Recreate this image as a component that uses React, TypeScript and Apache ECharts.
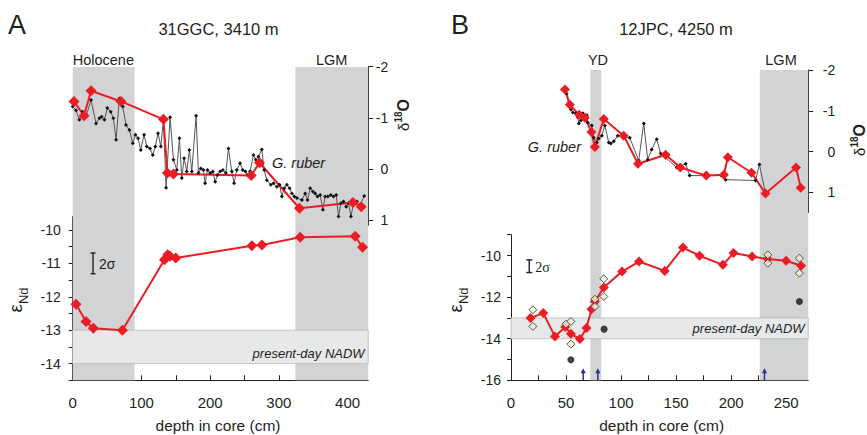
import React, { useEffect, useRef } from 'react';
import * as echarts from 'echarts';

// ---------- Panel A: 31GGC, 3410 m ----------
const depthA_blk = [0, 4.8, 9.7, 14.5, 19.4, 26.6, 34, 38.8, 42.2, 46.1, 50.4, 55.3, 59.2, 63.1, 67.9, 72.8, 77.6, 82.5, 87.4, 91.2, 95.1, 99, 103.8, 107.8, 112.6, 116.5, 120.3, 124.2, 128.2, 132, 135.9, 141.7, 146.6, 151.5, 155.3, 158.7, 162.1, 166, 169.8, 173.3, 179.6, 182.9, 186.4, 190.2, 192.7, 196.1, 200, 203.9, 207.3, 210.6, 214.5, 218.4, 222.8, 226.6, 231.5, 234.8, 238.7, 243.5, 247.4, 251.3, 254.7, 258.1, 263, 266.5, 270.3, 275.2, 278.6, 282.5, 288.3, 292.2, 297.1, 301, 304.4, 307.8, 311.7, 315.6, 319, 322.4, 326.2, 333.5, 338.3, 341.7, 345.6, 349.5, 352.8, 356.2, 360.1, 364, 367.3, 371.2, 375.6, 379.6, 383.5, 386.8, 390.3, 394.1, 398, 401.4, 404.9, 408.7, 413.6, 418.4, 424.2];
const d18OA_blk = [-1.22, -1.15, -0.96, -1.12, -1.02, -1.35, -0.89, -0.99, -1.02, -0.96, -1.19, -1.12, -0.99, -0.57, -1.38, -1.22, -0.86, -0.76, -0.5, -0.67, -0.6, -0.37, -0.67, -0.44, -0.4, -0.27, -0.44, -0.7, -0.44, -0.96, 0.37, -1.01, -0.18, 0.02, -0.6, 0.18, -0.21, 0.05, -0.37, 0.05, -1.04, 0.08, -0.01, 0.02, 0.28, 0.02, 0.08, 0.05, 0.25, 0.12, 0.05, 0.02, 0.08, -0.4, 0.05, 0.28, 0.02, -0.11, 0.02, 0.05, 0.12, 0.05, -0.27, -0.18, -0.24, -0.38, 0.02, 0.22, 0.31, 0.28, 0.35, 0.31, 0.54, 0.38, 0.31, 0.38, 0.48, 0.54, 0.57, 0.61, 0.48, 0.61, 0.38, 0.44, 0.48, 0.54, 0.51, 0.8, 0.54, 0.54, 0.51, 0.54, 0.51, 0.93, 0.67, 0.64, 0.74, 0.67, 0.93, 0.67, 0.64, 0.7, 0.53];
const depthA_red18 = [1.9, 16.5, 26.7, 70.3, 132, 137.8, 146.6, 259.7, 271.8, 330, 407.8, 419.9];
const d18OA_red = [-1.32, -1.04, -1.53, -1.32, -0.97, 0.08, 0.1, 0.13, -0.12, 0.77, 0.66, 0.74];
const depthA_nd = [4.8, 19.4, 30, 72.3, 133.5, 138.3, 141.7, 150, 260.7, 275.3, 331, 411, 421.8];
const ndA = [-12.22, -12.74, -12.94, -13.0, -10.89, -10.74, -10.79, -10.84, -10.47, -10.45, -10.22, -10.19, -10.52];
const holoceneA = [0, 90];
const lgmA = [324, 430];
const sigmaA = [29.6, -10.69, -11.31];

// ---------- Panel B: 12JPC, 4250 m ----------
const depthB_blk = [50.5, 52.6, 54.4, 56.2, 58.9, 60.7, 61.6, 63.5, 65.3, 66.2, 68.9, 69.8, 73.4, 75.2, 78, 79.8, 82.5, 85.2, 88.8, 90.7, 93.4, 97, 107.9, 116, 120.6, 124.2, 127.8, 132.4, 136, 140.5, 150.5, 158.7, 162.3, 175.9, 191, 194.9, 222.1, 225.7, 231.2];
const d18OB_blk = [-1.42, -1.13, -1.03, -0.96, -0.94, -0.84, -0.69, -0.76, -0.94, -0.81, -0.89, -0.71, -0.64, -0.34, -0.22, -0.32, -0.39, -0.64, -0.22, -0.2, -0.25, -0.39, -0.34, 0.22, -0.69, 0.2, -0.05, -0.3, 0.05, 0.15, 0.39, 0.3, 0.59, 0.59, 0.59, 0.69, 0.71, 0.32, 1.03];
const depthB_red18 = [49, 53.5, 61.9, 67.1, 73.1, 76.2, 84.3, 102.4, 115.4, 140.5, 153.8, 177.4, 193.4, 197, 218.5, 231.2, 259, 263.2];
const d18OB_red = [-1.52, -1.15, -0.9, -0.83, -0.48, -0.11, -0.8, -0.39, 0.3, 0.08, 0.39, 0.59, 0.57, 0.14, 0.52, 1.03, 0.39, 0.89];
const depthB_nd = [17.8, 29.3, 39.9, 49.3, 54.4, 62.6, 68.6, 73.1, 76.2, 84.3, 100.9, 116.3, 139.6, 156.2, 171.3, 192.5, 202.2, 219.1, 233.3, 249.9, 263.5];
const ndB = [-13.01, -12.77, -13.89, -13.44, -13.76, -14.02, -13.49, -12.58, -12.21, -11.54, -10.77, -10.29, -10.74, -9.62, -10.01, -10.45, -9.88, -10.05, -10.17, -10.25, -10.49];
const depthB_open = [19.9, 19.9, 49.9, 54.4, 54.4, 76.2, 76.2, 84.3, 84.3, 233.3, 233.3, 262, 262];
const ndB_open = [-12.61, -13.41, -13.3, -13.17, -14.26, -12.1, -12.45, -11.12, -11.97, -9.97, -10.37, -10.13, -10.85];
const depthB_dot = [54.4, 84.6, 262];
const ndB_dot = [-15.01, -13.54, -12.21];
const arrowDepthsB = [65.6, 78.9, 230.3];
const ydB = [72, 82];
const lgmB = [226, 270];
const sigmaB = [16.6, -10.21, -10.82];

const nadw = [-13, -14];

// tick values
const xTicksA = [0, 50, 100, 150, 200, 250, 300, 350, 400];
const xLabelsA = [0, 100, 200, 300, 400];
const xTicksB = [0, 25, 50, 75, 100, 125, 150, 175, 200, 225, 250];
const xLabelsB = [0, 50, 100, 150, 200, 250];
const ndTicksA = [-14.5, -14, -13.5, -13, -12.5, -12, -11.5, -11, -10.5, -10];
const ndLabelsA = [-14, -13, -12, -11, -10];
const ndTicksB = [-16, -15, -14, -13, -12, -11, -10, -9];
const ndLabelsB = [-16, -14, -12, -10];
const d18Ticks = [-2, -1, 0, 1];

const FONT = '"Liberation Sans", Arial, Helvetica, sans-serif';
const INK = '#231f20';
const RED = '#ec1c24';
const SHADE = '#d1d3d4';

const zip = (xs: number[], ys: number[]) => xs.map((x, i) => [x, ys[i]]);

const hiddenX = (gi: number, max: number) => ({
  type: 'value', gridIndex: gi, min: 0, max, show: false, splitLine: { show: false },
});

const axisLineStyle = { show: true, onZero: false, lineStyle: { color: INK, width: 1 } };

function sigmaRender(serif: boolean) {
  return (params: any, api: any) => {
    const x = api.value(0);
    const p1 = api.coord([x, api.value(1)]);
    const p2 = api.coord([x, api.value(2)]);
    const cw = serif ? 3 : 2.5;
    const st = { stroke: INK, lineWidth: 1.4 };
    return {
      type: 'group',
      children: [
        { type: 'line', shape: { x1: p1[0], y1: p1[1], x2: p2[0], y2: p2[1] }, style: st },
        { type: 'line', shape: { x1: p1[0] - cw, y1: p1[1], x2: p1[0] + cw, y2: p1[1] }, style: st },
        { type: 'line', shape: { x1: p2[0] - cw, y1: p2[1], x2: p2[0] + cw, y2: p2[1] }, style: st },
        {
          type: 'text',
          style: {
            text: '2σ', x: p1[0] + 6, y: (p1[1] + p2[1]) / 2 + 1,
            align: 'left', verticalAlign: 'middle',
            fontSize: 14, fontFamily: serif ? '"Liberation Serif", "Times New Roman", serif' : FONT, fill: INK,
          },
        },
      ],
    };
  };
}

function arrowRender(params: any, api: any) {
  const p = api.coord([api.value(0), -16]);
  const x = p[0];
  const yb = p[1];
  const yt = yb - 12;
  const col = '#2e3192';
  return {
    type: 'group',
    children: [
      { type: 'line', shape: { x1: x, y1: yb, x2: x, y2: yt + 4 }, style: { stroke: col, lineWidth: 1.5 } },
      { type: 'polygon', shape: { points: [[x - 2.6, yt + 5], [x + 2.6, yt + 5], [x, yt]] }, style: { fill: col } },
    ],
  };
}

function txt(text: string, x: number, y: number, fontSize: number, align = 'center', extra: any = {}) {
  return {
    type: 'text', x, y, z: 100,
    style: {
      text, fontSize, fontFamily: FONT, fill: INK,
      align, verticalAlign: 'middle', textAlign: align, textVerticalAlign: 'middle', ...extra,
    },
  };
}

function d18Label(x: number, y: number) {
  return {
    type: 'text', x, y, rotation: Math.PI / 2, z: 100,
    style: {
      text: '{d|δ}{s|18}{o|O}',
      align: 'center', verticalAlign: 'middle', textAlign: 'center', textVerticalAlign: 'middle',
      fill: INK, fontFamily: FONT,
      rich: {
        d: { fontSize: 15, fontFamily: FONT, fill: INK, lineHeight: 20, verticalAlign: 'bottom' },
        s: { fontSize: 10, fontFamily: FONT, fill: INK, fontWeight: 'bold', lineHeight: 20, verticalAlign: 'top', padding: [2, 0, 0, 0] },
        o: { fontSize: 16, fontFamily: FONT, fill: INK, fontWeight: 'bold', lineHeight: 20, verticalAlign: 'bottom' },
      },
    },
  };
}

function ndLabel(x: number, y: number) {
  return {
    type: 'text', x, y, rotation: Math.PI / 2, z: 100,
    style: {
      text: '{e|ε}{n|Nd}',
      align: 'center', verticalAlign: 'middle', textAlign: 'center', textVerticalAlign: 'middle',
      fill: INK, fontFamily: FONT,
      rich: {
        e: { fontSize: 19, fontFamily: FONT, fill: INK, lineHeight: 24, verticalAlign: 'top' },
        n: { fontSize: 13, fontFamily: FONT, fill: INK, lineHeight: 24, verticalAlign: 'bottom' },
      },
    },
  };
}

export default function App() {
  const ref = useRef<HTMLDivElement>(null);
  useEffect(() => {
    if (!ref.current) return;
    const chart = echarts.init(ref.current, undefined, { renderer: 'svg' });
    const bottom = 435 - 380.3;
    const option: any = {
      animation: false,
      backgroundColor: '#ffffff',
      textStyle: { fontFamily: FONT },
      grid: [
        { left: 72.7, right: 867 - 368.2, top: 67, bottom },
        { left: 72.7, right: 867 - 368.2, top: 66.7, height: 158.4 },
        { left: 72.7, right: 867 - 368.2, top: 216.6, bottom },
        { left: 511, right: 867 - 808.2, top: 70, bottom },
        { left: 511, right: 867 - 808.2, top: 70, height: 142.7 },
        { left: 511, right: 867 - 808.2, top: 234.7, bottom },
      ],
      xAxis: [
        hiddenX(0, 430),
        hiddenX(1, 430),
        {
          type: 'value', gridIndex: 2, min: 0, max: 430,
          axisLine: axisLineStyle,
          axisTick: { show: true, inside: true, length: 5, customValues: xTicksA, lineStyle: { color: INK } },
          axisLabel: { customValues: xLabelsA, color: INK, fontSize: 15, fontFamily: FONT, margin: 15 },
          splitLine: { show: false },
        },
        hiddenX(3, 270),
        hiddenX(4, 270),
        {
          type: 'value', gridIndex: 5, min: 0, max: 270,
          axisLine: axisLineStyle,
          axisTick: { show: true, inside: true, length: 5, customValues: xTicksB, lineStyle: { color: INK } },
          axisLabel: { customValues: xLabelsB, color: INK, fontSize: 15, fontFamily: FONT, margin: 15 },
          splitLine: { show: false },
        },
      ],
      yAxis: [
        { type: 'value', gridIndex: 0, min: 0, max: 1, show: false, splitLine: { show: false } },
        {
          type: 'value', gridIndex: 1, min: -2, max: 1.1, inverse: true, position: 'right',
          axisLine: axisLineStyle,
          axisTick: { show: true, length: 5, customValues: d18Ticks, lineStyle: { color: INK } },
          axisLabel: { customValues: d18Ticks, color: INK, fontSize: 14, fontFamily: FONT, align: 'right', margin: 20 },
          splitLine: { show: false },
        },
        {
          type: 'value', gridIndex: 2, min: -14.5, max: -9.6, position: 'left',
          axisLine: axisLineStyle,
          axisTick: { show: true, length: 4, customValues: ndTicksA, lineStyle: { color: INK } },
          axisLabel: { customValues: ndLabelsA, color: INK, fontSize: 14, fontFamily: FONT, margin: 12 },
          splitLine: { show: false },
        },
        { type: 'value', gridIndex: 3, min: 0, max: 1, show: false, splitLine: { show: false } },
        {
          type: 'value', gridIndex: 4, min: -2, max: 1.5, inverse: true, position: 'right',
          axisLine: axisLineStyle,
          axisTick: { show: true, length: 5, customValues: d18Ticks, lineStyle: { color: INK } },
          axisLabel: { customValues: d18Ticks, color: INK, fontSize: 14, fontFamily: FONT, align: 'right', margin: 27 },
          splitLine: { show: false },
        },
        {
          type: 'value', gridIndex: 5, min: -16, max: -9, position: 'left',
          axisLine: axisLineStyle,
          axisTick: { show: true, length: 4, customValues: ndTicksB, lineStyle: { color: INK } },
          axisLabel: { customValues: ndLabelsB, color: INK, fontSize: 14, fontFamily: FONT, margin: 10 },
          splitLine: { show: false },
        },
      ],
      series: [
        // Panel A shading
        {
          type: 'line', xAxisIndex: 0, yAxisIndex: 0, data: [], silent: true,
          markArea: {
            silent: true, itemStyle: { color: SHADE },
            data: [
              [{ xAxis: holoceneA[0] }, { xAxis: holoceneA[1] }],
              [{ xAxis: lgmA[0] }, { xAxis: lgmA[1] }],
            ],
          },
        },
        {
          name: 'G. ruber A', type: 'line', xAxisIndex: 1, yAxisIndex: 1,
          data: zip(depthA_blk, d18OA_blk),
          symbol: 'diamond', symbolSize: 4, itemStyle: { color: '#111' },
          lineStyle: { color: '#555', width: 1 },
        },
        {
          name: 'd18O A', type: 'line', xAxisIndex: 1, yAxisIndex: 1,
          data: zip(depthA_red18, d18OA_red),
          symbol: 'diamond', symbolSize: 11, itemStyle: { color: RED },
          lineStyle: { color: RED, width: 2 },
        },
        {
          name: 'eNd A', type: 'line', xAxisIndex: 2, yAxisIndex: 2,
          data: zip(depthA_nd, ndA),
          symbol: 'diamond', symbolSize: 11, itemStyle: { color: RED },
          lineStyle: { color: RED, width: 2 },
          markArea: {
            silent: true,
            itemStyle: { color: '#e7e8e9', borderColor: '#b8b9bb', borderWidth: 0.8 },
            label: {
              show: true, position: 'insideBottomRight', distance: 4,
              fontStyle: 'italic', fontSize: 13, color: INK, fontFamily: FONT,
            },
            data: [[{ name: 'present-day NADW', xAxis: 0, yAxis: nadw[0] }, { xAxis: 430, yAxis: nadw[1] }]],
          },
        },
        {
          type: 'custom', xAxisIndex: 2, yAxisIndex: 2, silent: true,
          data: [sigmaA], renderItem: sigmaRender(false), z: 5,
        },
        // Panel B shading
        {
          type: 'line', xAxisIndex: 3, yAxisIndex: 3, data: [], silent: true,
          markArea: {
            silent: true, itemStyle: { color: SHADE },
            data: [
              [{ xAxis: ydB[0] }, { xAxis: ydB[1] }],
              [{ xAxis: lgmB[0] }, { xAxis: lgmB[1] }],
            ],
          },
        },
        {
          name: 'G. ruber B', type: 'line', xAxisIndex: 4, yAxisIndex: 4,
          data: zip(depthB_blk, d18OB_blk),
          symbol: 'diamond', symbolSize: 4, itemStyle: { color: '#111' },
          lineStyle: { color: '#555', width: 1 },
        },
        {
          name: 'd18O B', type: 'line', xAxisIndex: 4, yAxisIndex: 4,
          data: zip(depthB_red18, d18OB_red),
          symbol: 'diamond', symbolSize: 10, itemStyle: { color: RED },
          lineStyle: { color: RED, width: 2 },
        },
        {
          name: 'eNd B', type: 'line', xAxisIndex: 5, yAxisIndex: 5,
          data: zip(depthB_nd, ndB),
          symbol: 'diamond', symbolSize: 10, itemStyle: { color: RED },
          lineStyle: { color: RED, width: 2 },
          markArea: {
            silent: true,
            itemStyle: { color: '#e7e8e9', borderColor: '#b8b9bb', borderWidth: 0.8 },
            label: {
              show: true, position: 'insideBottomRight', distance: 4,
              fontStyle: 'italic', fontSize: 13, color: INK, fontFamily: FONT,
            },
            data: [[{ name: 'present-day NADW', xAxis: 0, yAxis: nadw[0] }, { xAxis: 270, yAxis: nadw[1] }]],
          },
        },
        {
          name: 'eNd B replicates', type: 'scatter', xAxisIndex: 5, yAxisIndex: 5,
          data: zip(depthB_open, ndB_open), z: 4,
          symbol: 'diamond', symbolSize: 8,
          itemStyle: { color: '#f2eecb', borderColor: '#333', borderWidth: 1 },
        },
        {
          name: 'eNd B other', type: 'scatter', xAxisIndex: 5, yAxisIndex: 5,
          data: zip(depthB_dot, ndB_dot), z: 4,
          symbol: 'circle', symbolSize: 7, itemStyle: { color: '#111' },
        },
        {
          type: 'custom', xAxisIndex: 5, yAxisIndex: 5, silent: true, z: 5,
          data: arrowDepthsB.map((d) => [d]), renderItem: arrowRender,
        },
        {
          type: 'custom', xAxisIndex: 5, yAxisIndex: 5, silent: true, z: 5,
          data: [sigmaB], renderItem: sigmaRender(true),
        },
      ],
      graphic: [
        txt('A', 8, 25, 27, 'left'),
        txt('31GGC, 3410 m', 218.5, 29, 16.5),
        txt('B', 451, 25, 27, 'left'),
        txt('12JPC, 4250 m', 676, 29, 16.5),
        txt('Holocene', 72.7, 60, 14.5, 'left'),
        txt('LGM', 331.6, 60, 14.5),
        txt('YD', 598, 60, 14.5),
        txt('LGM', 781, 60, 14.5),
        txt('G. ruber', 272, 163, 14.5, 'left', { fontStyle: 'italic' }),
        txt('G. ruber', 581, 147, 14.5, 'right', { fontStyle: 'italic' }),
        txt('depth in core (cm)', 218, 425, 15.5),
        txt('depth in core (cm)', 661.7, 425, 15.5),
        d18Label(401, 115),
        d18Label(857, 140),
        ndLabel(18, 300),
        ndLabel(458, 300),
      ],
    };
    chart.setOption(option);
    return () => chart.dispose();
  }, []);
  return (
    <div
      ref={ref}
      style={{ position: 'fixed', left: 0, top: 0, width: 867, height: 435, background: '#fff' }}
    />
  );
}
